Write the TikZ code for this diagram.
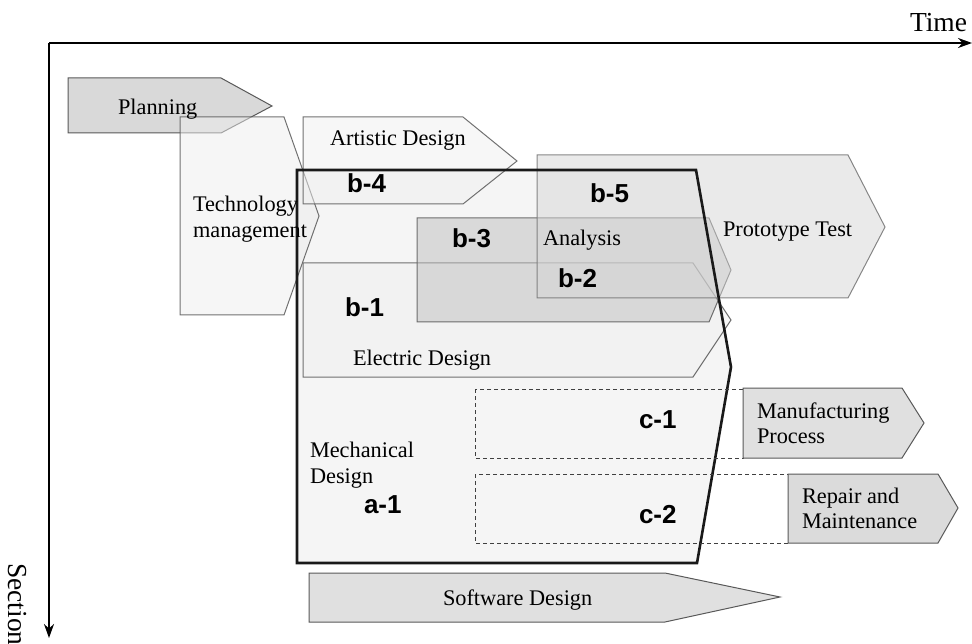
\documentclass[tikz,border=0pt]{standalone}
\usepackage{fontspec}
\setmainfont{Liberation Serif}
\newfontfamily\lsans{Liberation Sans}
\usetikzlibrary{arrows.meta}
\tikzset{
  every node/.style={inner sep=0pt, outer sep=0pt},
  txt/.style={anchor=base west, font=\fontsize{22.3}{26}\selectfont},
  big/.style={anchor=base west, font=\fontsize{27.5}{30}\selectfont},
  lbl/.style={anchor=base west, font=\lsans\bfseries\fontsize{26}{30}\selectfont},
  axis/.style={line width=2pt, -{Stealth[length=14pt,width=10pt]}},
  phase/.style={draw=black!65, line width=1pt, fill opacity=0.5, draw opacity=0.85},
  solidphase/.style={draw=black!65, line width=1pt},
  dashbox/.style={draw=black!75, line width=0.9pt, dash pattern=on 4pt off 3pt},
  mechborder/.style={draw=black!90, line width=2.6pt, line join=miter}
}
\begin{document}
\begin{tikzpicture}[x=1pt,y=-1pt]
\useasboundingbox (0,0) rectangle (972,644);
% axes
\coordinate (o) at (49,43);
\coordinate (tend) at (972,43);
\coordinate (send) at (49,638);
\draw[axis] (o) -- (tend);
\draw[axis] (o) -- (send);
\node[big] (time) at (910,32) {Time};
\node[big, rotate=-90] (section) at (9,563) {Section};
% planning
\path[solidphase, fill=black!15] (68,78) -- (221,78) -- (272,106) -- (221,133) -- (68,133) -- cycle;
% mechanical fill
\path[fill=black!4] (297,170) -- (696,170) -- (731,367) -- (697,563) -- (297,563) -- cycle;
% technology management
\path[phase, fill=black!7] (180,117) -- (284,117) -- (319,216) -- (284,315) -- (180,315) -- cycle;
% artistic
\path[phase, fill=black!6] (303,117) -- (463,117) -- (517,161) -- (463,204) -- (303,204) -- cycle;
% electric
\path[phase, fill=black!6] (303,263) -- (693,263) -- (731,320) -- (693,377) -- (303,377) -- cycle;
% analysis
\path[phase, fill=black!25] (417,218) -- (709,218) -- (731,270) -- (709,322) -- (417,322) -- cycle;
% prototype
\path[phase, fill=black!16, draw=black!55] (537,155) -- (848,155) -- (885,227) -- (848,298) -- (537,298) -- cycle;
% mechanical border
\draw[mechborder] (297,170) -- (696,170) -- (731,367) -- (697,563) -- (297,563) -- cycle;
% dashed boxes
\draw[dashbox] (475,389) rectangle (743,458);
\draw[dashbox] (475,474) rectangle (788,543);
% manufacturing, repair, software
\path[solidphase, fill=black!12] (743,388) -- (902,388) -- (924,423) -- (902,458) -- (743,458) -- cycle;
\path[solidphase, fill=black!14] (788,474) -- (938,474) -- (958,508) -- (938,543) -- (788,543) -- cycle;
\path[solidphase, fill=black!12] (309,573) -- (665,573) -- (780,597) -- (665,622) -- (309,622) -- cycle;
% texts
\node[txt] (planning) at (118,115) {Planning};
\node[txt] (tm1) at (193,212) {Technology};
\node[txt] (tm2) at (193,238) {management};
\node[txt] (artistic) at (330,146) {Artistic Design};
\node[txt] (analysis) at (543,246) {Analysis};
\node[txt] (electric) at (353,365) {Electric Design};
\node[txt] (proto) at (723,237) {Prototype Test};
\node[txt] (mech1) at (310,457) {Mechanical};
\node[txt] (mech2) at (310,483) {Design};
\node[txt] (man1) at (757,418) {Manufacturing};
\node[txt] (man2) at (757,443) {Process};
\node[txt] (rep1) at (802,503) {Repair and};
\node[txt] (rep2) at (802,528) {Maintenance};
\node[txt] (soft) at (443,605) {Software Design};
\node[lbl] (b4) at (347,193) {b-4};
\node[lbl] (b5) at (590,203) {b-5};
\node[lbl] (b3) at (452,248) {b-3};
\node[lbl] (b2) at (558,288) {b-2};
\node[lbl] (b1) at (345,317) {b-1};
\node[lbl] (c1) at (639,428) {c-1};
\node[lbl] (c2) at (639,523) {c-2};
\node[lbl] (a1) at (364,513) {a-1};
\end{tikzpicture}
\end{document}
